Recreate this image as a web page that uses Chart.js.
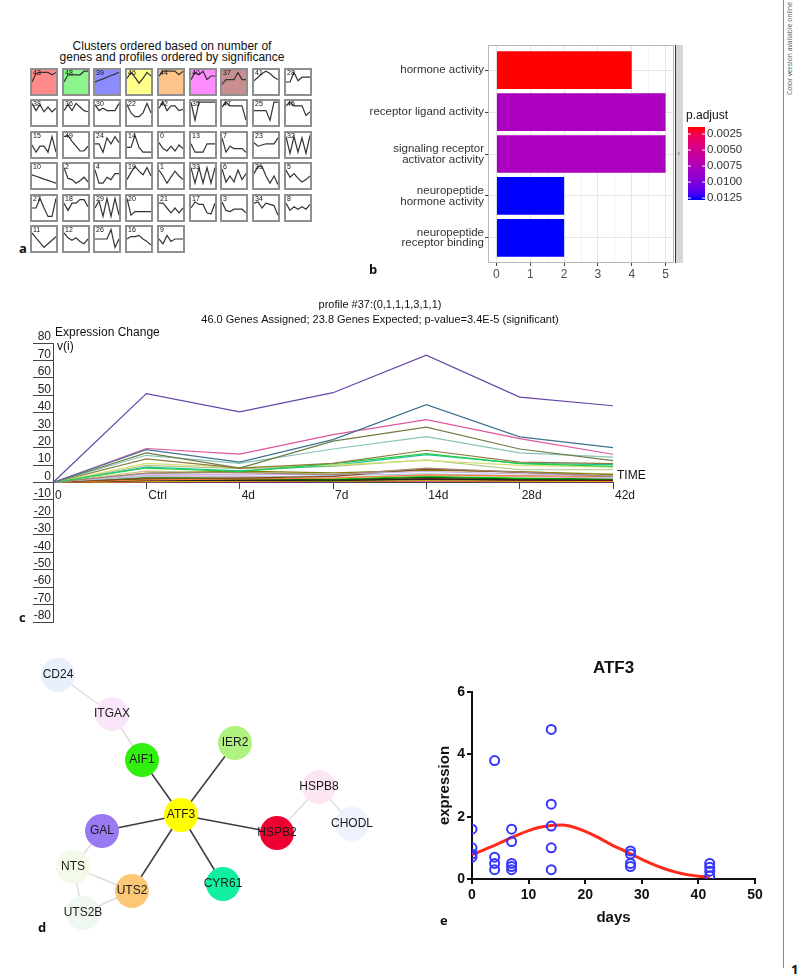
<!DOCTYPE html>
<html>
<head>
<meta charset="utf-8">
<title>Figure 1</title>
<script src="https://cdn.jsdelivr.net/npm/chart.js@4.4.1/dist/chart.umd.min.js"></script>
<style>
  html, body { margin: 0; padding: 0; background: #fff; }
  #page { position: relative; width: 799px; height: 978px; overflow: hidden; font-family: "Liberation Sans", Arial, sans-serif; }
  .box { position: absolute; display: block; }
  .tag { position: absolute; font-family: "Open Sans", "Liberation Sans", sans-serif; font-weight: bold; font-size: 13px; color: #111; line-height: 1; }
  .cell { position: absolute; width: 28px; height: 28px; box-sizing: border-box; border: 2px solid #8f8f8f; background: #fff; }
  .cell canvas { display: block; }
  #atitle { position: absolute; left: 42px; width: 260px; top: 41px; text-align: center; font-size: 12px; line-height: 11px; color: #111; }
  #online { position: absolute; left: 736px; top: 43px; width: 106px; height: 11px; line-height: 11px; transform: rotate(-90deg); font-family: "Open Sans", sans-serif; font-size: 6.8px; color: #555; text-align: center; white-space: nowrap; }
  #rule { position: absolute; left: 783px; top: 0; width: 1px; height: 968px; background: #888; }
</style>
</head>
<body>
<div id="page">
  <div id="atitle">Clusters ordered based on number of<br>genes and profiles ordered by significance</div>
  <div id="grid"></div>
  <canvas id="chartB" class="box" width="400" height="245" style="left:370px;top:40px"></canvas>
  <canvas id="chartC" class="box" width="720" height="345" style="left:20px;top:290px"></canvas>
  <canvas id="chartD" class="box" width="380" height="290" style="left:20px;top:645px"></canvas>
  <canvas id="chartE" class="box" width="350" height="300" style="left:420px;top:640px"></canvas>
  <div class="tag" style="left:19px;top:242px">a</div>
  <div class="tag" style="left:369px;top:263px">b</div>
  <div class="tag" style="left:19px;top:611px">c</div>
  <div class="tag" style="left:38px;top:921px">d</div>
  <div class="tag" style="left:440px;top:914px">e</div>
  <div id="rule"></div>
  <div id="online">Color version available online</div>
  <div class="tag" style="left:791px;top:963px">1</div>
</div>
<script>
// panel a: STEM model profiles, ordered as in the grid
const profileIds = [43, 48, 39, 46, 44, 40, 37, 41, 28,
                    38, 36, 30, 22, 42, 35, 47, 25, 45,
                    15, 49, 24, 14, 0, 13, 7, 23, 32,
                    10, 2, 4, 19, 1, 33, 6, 31, 5,
                    27, 18, 29, 20, 21, 17, 3, 34, 8,
                    11, 12, 26, 16, 9];
const profileShapes = [
  [5,8.5,9,9,9,8,9], [5,8,8,8,8,9.5,9.5], [5,5.7,6.3,7,7.7,8.3,9], [6.5,9,7,4.5,6.5,9,7.5], [7.5,9.5,9.5,9.5,9.5,8,9.5],
  [6,9,8,9.5,6,7.5,7.5], [4,6,6,6,9,6,6], [5.5,7,8.5,9.5,8.5,7,6], [5,5,9,5.5,7,7,7],
  [9,6,8.5,5.5,7.5,5.5,7], [6,8.5,6,9,7.5,6,5.5], [8.5,6,7,6,6,6,9], [8.5,5,3.5,3.5,5,9,5], [7,9.5,6,8,8,6,6.5],
  [9.5,2,9.5,9.5,9.5,9.5,9.5], [7.5,9.5,8,8,8,8,2], [6,6,6,6,2,9.5,9.5], [8,9.5,8,8,8,4,5.5],
  [5,2,4.5,4.5,2,8.5,2], [8.5,9,6.5,4.5,2.5,2.5,4.5], [5.5,5.5,2,8,5.5,8.5,6], [4,4,9,4,2,2,2], [6,3.5,2.5,4.5,2.5,5,3.5],
  [5.5,2,2,2,5.5,5.5,5.5], [8,2,4.5,3.5,3.5,3.5,2], [6,4.5,5,5.5,5.5,5.5,8], [8.5,1.5,8.5,2,8,1.5,9],
  [5.5,4.9,4.3,3.7,3.2,2.6,2], [8.5,4,3.5,2,3,4.5,2.5], [7.5,2,2,4.5,3.5,6,6], [3.5,6.5,9,7,5.5,8.5,5], [7.5,5,2,4.5,7,5,3.5],
  [8.5,2,8.5,2,8.5,2,8.5], [8,2.5,5,2.5,7.5,3.5,6], [6,9,9,5,2,5,1.5], [7.5,4.5,6,4,2.5,3.5,5],
  [5,5,9,5,1.5,1.5,9], [7,4,7,7,8.5,8.5,5.5], [5,8,1.5,9,1.5,9,2], [9,2,3.5,3.5,3.5,3.5,3.5], [7,7,5,3,5,3,5],
  [5,7.5,6.5,6.5,3,2.5,7], [7.5,4,3.5,4.5,4.5,4.5,3], [7,7.5,5,7,6.5,6,2], [7,4,5.5,4.5,5.5,4.5,6.5],
  [7.5,5.5,3.5,1.5,3,4.5,6], [7.5,5.5,4.5,5.5,4,3,5], [5,5,5,5,9,1.5,5], [5,6,6,6.5,5,4,2.5], [5,3,6.5,4,5,5,5]
];
const profileFills = ['#ff8a8a', '#8cf58c', '#8c8cff', '#ffff8c', '#ffc48a', '#ff8cff', '#c98f8f'];
const profileSteps = ['0', '1', '2', '3', '4', '5', '6'];

// panel b: GO enrichment
const goTerms = [['hormone activity'], ['receptor ligand activity'], ['signaling receptor', 'activator activity'],
                 ['neuropeptide', 'hormone activity'], ['neuropeptide', 'receptor binding']];
const goCounts = [4, 5, 5, 2, 2];
const goPAdjust = [0.0014, 0.0077, 0.0077, 0.0128, 0.0128];
const countTicks = [0, 1, 2, 3, 4, 5];
const pAdjustTicks = [0.0025, 0.0050, 0.0075, 0.0100, 0.0125];

// panel c: genes assigned to profile #37
const timeLabels = ['0', 'Ctrl', '4d', '7d', '14d', '28d', '42d'];
const geneColors = ['#6646a8', '#3f7391', '#e0559c', '#6e7c45', '#88c4b4', '#8b7b40', '#20d040', '#d4e070',
                    '#20c0a0', '#b4c488', '#a08878', '#c8b0e8', '#8b4a1a', '#f08040', '#a0c8e8', '#f0a0c0',
                    '#808000', '#c8c080', '#006400', '#00dd00', '#222222', '#a00020', '#e0d000', '#202080',
                    '#e00010', '#500070', '#c000c0', '#6b8e23', '#00a0c0'];
const geneProfiles = [
  [0, 51, 40.5, 51.5, 73, 49, 44],
  [0, 18.8, 11.7, 24.6, 44.6, 26.2, 20],
  [0, 19.5, 16.3, 27.5, 36, 25.2, 16.2],
  [0, 17, 8.3, 23.7, 31.7, 19.2, 12.5],
  [0, 15.6, 11, 19.2, 26.3, 17, 14.6],
  [0, 13.5, 8.3, 11, 18.5, 11.7, 10.8],
  [0, 8.3, 6.3, 10.8, 16.5, 10.8, 9.2],
  [0, 11, 8.6, 10, 12.7, 9.8, 8.8],
  [0, 8.8, 6.7, 9.8, 16, 11, 10.2],
  [0, 9.8, 7.9, 9.2, 13, 7.3, 7.3],
  [0, 5.4, 5.8, 4.4, 8.3, 6, 3.5],
  [0, 5, 4.4, 4.8, 6.3, 5, 3.8],
  [0, 2.5, 2.5, 3.5, 7.7, 5.8, 3.5],
  [0, 1.5, 2, 2.5, 4.4, 3.8, 3.5],
  [0, 3.5, 3, 4, 5, 4, 3],
  [0, 4, 3.5, 3, 4, 3.5, 2.5],
  [0, 5.2, 6.5, 5.5, 7, 6.3, 4.5],
  [0, 6.5, 5.5, 5, 7.5, 6, 5],
  [0, 2, 2, 1.5, 3, 2, 2],
  [0, 3, 2.5, 2, 3.5, 2.5, 2],
  [0, 1, 1.2, 1, 2, 1.5, 1.5],
  [0, 1.5, 1.5, 1.5, 2, 1.5, 1],
  [0, 0.5, 0.8, 0.8, 1, 0.8, 0.6],
  [0, 1, 1, 0.8, 1.5, 1, 1],
  [0, 0.6, 0.8, 0.8, 1.2, 0.8, 0.7],
  [0, 0.8, 0.5, 0.6, 1.8, 1, 0.8],
  [0, 0.4, 0.3, 0.5, 0.8, 0.5, 0.4],
  [0, 2.2, 1.8, 1.5, 2.5, 1.8, 1.6],
  [0, 1.8, 1.5, 1.2, 2.2, 1.8, 1.4]
];

// panel d: interaction network (layout coordinates)
const nodeNames  = ['CD24', 'ITGAX', 'AIF1', 'IER2', 'ATF3', 'HSPB8', 'CHODL', 'HSPB2', 'GAL', 'NTS', 'UTS2', 'CYR61', 'UTS2B'];
const nodeX      = [38, 92, 122, 215, 161, 299, 332, 257, 82, 53, 112, 203, 63];
const nodeY      = [30, 69, 115, 98, 170, 142, 179, 188, 186, 222, 246, 239, 268];
const nodeColors = ['#e8f0fc', '#fae6fa', '#33ee11', '#b0f280', '#ffff00', '#fce6f4', '#eef2fc', '#ee0033',
                    '#9a7af0', '#f4fae8', '#fcc878', '#11f0a0', '#eef8f0'];
const strongEdges = [['ATF3', 'AIF1'], ['ATF3', 'IER2'], ['ATF3', 'GAL'], ['ATF3', 'HSPB2'], ['ATF3', 'UTS2'], ['ATF3', 'CYR61']];
const weakEdges = [['CD24', 'ITGAX'], ['ITGAX', 'AIF1'], ['HSPB8', 'HSPB2'], ['HSPB8', 'CHODL'],
                   ['GAL', 'NTS'], ['NTS', 'UTS2'], ['NTS', 'UTS2B'], ['UTS2', 'UTS2B']];

// panel e: ATF3 qPCR
const sampleDays = [0, 0, 0, 0, 4, 4, 4, 4, 7, 7, 7, 7, 7, 14, 14, 14, 14, 14, 28, 28, 28, 28, 42, 42, 42, 42];
const sampleExpr = [1.6, 1.0, 0.8, 0.7, 3.8, 0.7, 0.5, 0.3, 1.6, 1.2, 0.5, 0.4, 0.3, 4.8, 2.4, 1.7, 1.0, 0.3,
                    0.9, 0.8, 0.5, 0.4, 0.5, 0.38, 0.25, 0.1];
const fitDays = [0, 2, 4, 6, 8, 10, 12, 14, 16, 18, 20, 22, 24, 26, 28, 30, 32, 34, 36, 38, 40, 42];
const fitExpr = [0.78, 0.93, 1.08, 1.25, 1.41, 1.55, 1.66, 1.72, 1.73, 1.66, 1.53, 1.36, 1.16, 0.98, 0.81,
                 0.63, 0.47, 0.33, 0.22, 0.14, 0.09, 0.06];

Chart.defaults.font.family = '"Liberation Sans", Arial, sans-serif';
Chart.defaults.animation = false;
Chart.defaults.events = [];
Chart.defaults.layout.autoPadding = false;
Chart.defaults.plugins.legend.display = false;
Chart.defaults.plugins.tooltip.enabled = false;

// ---------- a ----------
const cellPlugin = {
  id: 'cell',
  beforeDraw(chart, args, opts) {
    const ctx = chart.ctx;
    if (opts.fill) {
      ctx.save();
      ctx.fillStyle = opts.fill;
      ctx.fillRect(0, 0, chart.width, chart.height);
      ctx.restore();
    }
  },
  afterDraw(chart, args, opts) {
    const ctx = chart.ctx;
    ctx.save();
    ctx.font = '7px "Liberation Sans", Arial';
    ctx.fillStyle = '#111';
    ctx.textBaseline = 'top';
    ctx.fillText(String(opts.id), 1, 0);
    ctx.restore();
  }
};

const grid = document.getElementById('grid');
profileIds.forEach((id, i) => {
  const col = i % 9, row = Math.floor(i / 9);
  const div = document.createElement('div');
  div.className = 'cell';
  div.style.left = Math.round(30 + col * 31.7) + 'px';
  div.style.top = Math.round(68 + row * 31.4) + 'px';
  const cv = document.createElement('canvas');
  cv.width = 24; cv.height = 24;
  div.appendChild(cv);
  grid.appendChild(div);
  new Chart(cv, {
    type: 'line',
    data: { labels: profileSteps, datasets: [{ data: profileShapes[i], borderColor: '#333', borderWidth: 1.2, pointRadius: 0 }] },
    options: {
      responsive: false,
      layout: { padding: 0 },
      scales: { x: { display: false }, y: { display: false, min: 0, max: 10 } },
      plugins: { cell: { id: id, fill: profileFills[i] || null } }
    },
    plugins: [cellPlugin]
  });
});

// ---------- b ----------
const pMin = 0.0014, pMax = 0.0128;
function pColor(p) {
  const t = Math.min(1, Math.max(0, (p - pMin) / (pMax - pMin)));
  const r = Math.round(255 * Math.sqrt(1 - t)), b = Math.round(255 * Math.sqrt(t));
  return 'rgb(' + r + ',0,' + b + ')';
}

const goDecor = {
  id: 'goDecor',
  afterDraw(chart) {
    const { ctx, chartArea: a } = chart;
    ctx.save();
    ctx.strokeStyle = '#b8b8b8';
    ctx.lineWidth = 1;
    ctx.strokeRect(a.left + 0.5, a.top + 0.5, a.right - a.left - 1, a.bottom - a.top - 1);
    // facet strip
    ctx.fillStyle = '#d6d6d6';
    ctx.fillRect(a.right + 1, a.top, 8, a.bottom - a.top);
    ctx.strokeStyle = '#333';
    ctx.beginPath(); ctx.moveTo(a.right + 1.5, a.top); ctx.lineTo(a.right + 1.5, a.bottom); ctx.stroke();
    ctx.fillStyle = '#333';
    ctx.font = '5px "Liberation Sans"';
    ctx.textAlign = 'center'; ctx.textBaseline = 'middle';
    ctx.fillText('t', a.right + 5, (a.top + a.bottom) / 2);
    // colour bar legend
    const bx = a.right + 14, by = 87, bw = 17, bh = 73;
    ctx.textAlign = 'left';
    ctx.fillStyle = '#111';
    ctx.font = '12px "Liberation Sans"';
    ctx.fillText('p.adjust', bx - 2, by - 11);
    const g = ctx.createLinearGradient(0, by, 0, by + bh);
    for (let k = 0; k <= 10; k++) g.addColorStop(k / 10, pColor(pMin + (pMax - pMin) * k / 10));
    ctx.fillStyle = g;
    ctx.fillRect(bx, by, bw, bh);
    ctx.font = '11.5px "Liberation Sans"';
    ctx.strokeStyle = '#fff';
    pAdjustTicks.forEach(v => {
      const y = by + (v - pMin) / (pMax - pMin) * bh;
      ctx.beginPath();
      ctx.moveTo(bx, y); ctx.lineTo(bx + 3, y);
      ctx.moveTo(bx + bw - 3, y); ctx.lineTo(bx + bw, y);
      ctx.stroke();
      ctx.fillStyle = '#333';
      ctx.fillText(v.toFixed(4), bx + bw + 2, y);
    });
    ctx.restore();
  }
};

new Chart(document.getElementById('chartB'), {
  type: 'bar',
  data: {
    datasets: [{
      data: goCounts.map((c, i) => ({ x: c, y: i + 1 })),
      backgroundColor: goPAdjust.map(pColor),
      barPercentage: 0.9,
      categoryPercentage: 1
    }]
  },
  options: {
    indexAxis: 'y',
    responsive: false,
    layout: { padding: { top: 5, right: 96, bottom: 0, left: 0 } },
    scales: {
      x: {
        type: 'linear', min: -0.25, max: 5.25,
        afterBuildTicks: s => { s.ticks = countTicks.flatMap(v => v < 5 ? [v, v + 0.5] : [v]).map(v => ({ value: v })); },
        afterFit: s => { s.height = 22; s.paddingLeft = 0; s.paddingRight = 0; },
        grid: {
          color: c => Number.isInteger(c.tick.value) ? '#e6e6e6' : '#f3f3f3',
          tickColor: c => Number.isInteger(c.tick.value) ? '#444' : 'rgba(0,0,0,0)',
          tickLength: 3
        },
        border: { display: false },
        ticks: { callback: v => Number.isInteger(v) ? String(v) : '', color: '#4d4d4d', font: { size: 12 }, padding: 1, autoSkip: false, maxRotation: 0 }
      },
      y: {
        type: 'linear', min: 0.4, max: 5.6, reverse: true, offset: false,
        afterBuildTicks: s => { s.ticks = goTerms.map((t, i) => ({ value: i + 1 })); },
        afterFit: s => { s.width = 118; s.paddingTop = 0; s.paddingBottom = 0; },
        grid: { color: '#e6e6e6', tickColor: '#444', tickLength: 3, offset: false },
        border: { display: false },
        ticks: { callback: v => goTerms[v - 1], color: '#333', font: { size: 11.5, lineHeight: 0.95 }, padding: 1, autoSkip: false }
      }
    }
  },
  plugins: [goDecor]
});

// ---------- c ----------
const stemText = {
  id: 'stemText',
  afterDraw(chart) {
    const { ctx, chartArea: a } = chart;
    const y0 = chart.scales.y.getPixelForValue(0);
    ctx.save();
    ctx.fillStyle = '#111';
    ctx.font = '11px "Liberation Sans"';
    ctx.textAlign = 'center'; ctx.textBaseline = 'middle';
    ctx.fillText('profile #37:(0,1,1,1,3,1,1)', chart.width / 2, 15);
    ctx.fillText('46.0 Genes Assigned; 23.8 Genes Expected; p-value=3.4E-5 (significant)', chart.width / 2, 30);
    ctx.textAlign = 'left';
    ctx.font = '12px "Liberation Sans"';
    ctx.fillText('Expression Change', a.left + 2, a.top - 10);
    ctx.fillText('v(i)', a.left + 4, a.top + 4);
    ctx.fillText('TIME', a.right + 4, y0 - 7);
    ctx.restore();
  }
};

new Chart(document.getElementById('chartC'), {
  type: 'line',
  data: {
    labels: timeLabels,
    datasets: geneProfiles.map((vals, i) => ({
      data: vals, borderColor: geneColors[i], borderWidth: 1.2, pointRadius: 0, tension: 0
    }))
  },
  options: {
    responsive: false,
    layout: { padding: { top: 53, right: 127, bottom: 13, left: 0 } },
    scales: {
      x: {
        position: { y: 0 },
        grid: { drawOnChartArea: false, tickLength: 6, color: '#444' },
        border: { color: '#444' },
        ticks: { align: 'start', labelOffset: 2, padding: 0, color: '#222', font: { size: 12 }, maxRotation: 0, autoSkip: false }
      },
      y: {
        min: -80, max: 80,
        afterFit: s => { s.width = 33; },
        grid: { drawOnChartArea: false, tickLength: 20, color: '#444' },
        border: { color: '#444' },
        ticks: { stepSize: 10, labelOffset: -6, padding: -18, color: '#222', font: { size: 12 }, autoSkip: false }
      }
    }
  },
  plugins: [stemText]
});

// ---------- d ----------
const nodeIndex = name => nodeNames.indexOf(name);
const edgeSet = (edges, color) => edges.map(([p, q]) => ({
  type: 'scatter', showLine: true, order: 2, pointRadius: 0, borderColor: color, borderWidth: 1.5,
  data: [p, q].map(n => ({ x: nodeX[nodeIndex(n)], y: nodeY[nodeIndex(n)] }))
}));

const nodeLabels = {
  id: 'nodeLabels',
  afterDatasetsDraw(chart) {
    const { ctx, scales } = chart;
    ctx.save();
    ctx.font = '12px "Liberation Sans"';
    ctx.fillStyle = '#1a1a1a';
    ctx.textAlign = 'center'; ctx.textBaseline = 'middle';
    nodeNames.forEach((n, i) => ctx.fillText(n, scales.x.getPixelForValue(nodeX[i]), scales.y.getPixelForValue(nodeY[i])));
    ctx.restore();
  }
};

new Chart(document.getElementById('chartD'), {
  type: 'scatter',
  data: {
    datasets: [
      {
        order: 0,
        data: nodeNames.map((n, i) => ({ x: nodeX[i], y: nodeY[i] })),
        pointRadius: 17, pointBackgroundColor: nodeColors, pointBorderWidth: 0
      },
      ...edgeSet(strongEdges, '#3c3c3c'),
      ...edgeSet(weakEdges, '#dedede')
    ]
  },
  options: {
    responsive: false,
    layout: { padding: 0, autoPadding: false },
    scales: {
      x: { type: 'linear', min: 0, max: 380, display: false },
      y: { type: 'linear', min: 0, max: 290, reverse: true, display: false }
    }
  },
  plugins: [nodeLabels]
});

// ---------- e ----------
const atfTitle = {
  id: 'atfTitle',
  afterDraw(chart) {
    const { ctx, chartArea: a } = chart;
    ctx.save();
    ctx.font = 'bold 17px "Liberation Sans"';
    ctx.fillStyle = '#111';
    ctx.textAlign = 'center'; ctx.textBaseline = 'middle';
    ctx.fillText('ATF3', (a.left + a.right) / 2, 28);
    ctx.restore();
  }
};

new Chart(document.getElementById('chartE'), {
  type: 'scatter',
  data: {
    datasets: [
      {
        data: sampleDays.map((d, i) => ({ x: d, y: sampleExpr[i] })),
        pointRadius: 4.5, pointBorderWidth: 2, pointBorderColor: '#3535ff', pointBackgroundColor: 'rgba(0,0,0,0)', order: 0
      },
      {
        data: fitDays.map((d, i) => ({ x: d, y: fitExpr[i] })),
        showLine: true, pointRadius: 0, borderColor: '#ff2a1a', borderWidth: 3, cubicInterpolationMode: 'monotone', order: 1
      }
    ]
  },
  options: {
    responsive: false,
    layout: { padding: { top: 52, right: 15, bottom: 0, left: 0 } },
    scales: {
      x: {
        min: 0, max: 50,
        afterFit: s => { s.height = 61; },
        grid: { drawOnChartArea: false, tickLength: 5, color: '#111', lineWidth: 2 },
        border: { color: '#111', width: 2 },
        ticks: { stepSize: 10, color: '#111', font: { size: 14, weight: 'bold' }, padding: 3 },
        title: { display: true, text: 'days', color: '#111', font: { size: 15, weight: 'bold' }, padding: { top: 0, bottom: 13 } }
      },
      y: {
        min: 0, max: 6,
        afterFit: s => { s.width = 52; },
        grid: { drawOnChartArea: false, tickLength: 5, color: '#111', lineWidth: 2 },
        border: { color: '#111', width: 2 },
        ticks: { stepSize: 2, color: '#111', font: { size: 14, weight: 'bold' }, padding: 2 },
        title: { display: true, text: 'expression', color: '#111', font: { size: 15, weight: 'bold' }, padding: { top: 16, bottom: 0 } }
      }
    }
  },
  plugins: [atfTitle]
});
</script>
</body>
</html>
